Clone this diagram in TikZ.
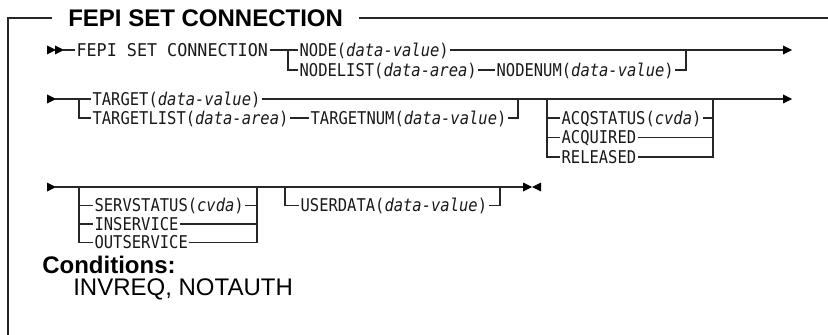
\documentclass[tikz,border=0pt]{standalone}
\usepackage{fontspec}
\usepackage{graphicx}
\setmainfont{Liberation Sans}
\setsansfont{Liberation Sans}
\setmonofont[FakeStretch=0.88]{DejaVu Sans Mono}
\begin{document}
\begin{tikzpicture}[x=0.75pt,y=-0.75pt,
  syn/.style={font=\ttfamily\fontsize{13.2pt}{14pt}\selectfont, anchor=west, inner xsep=1pt, inner ysep=0pt, text height=9.6pt, text depth=0pt, text=black!90},
  hd/.style={font=\sffamily\bfseries\fontsize{18pt}{20pt}\selectfont, anchor=west, inner ysep=0pt, text height=12.9pt, text depth=0pt},
  cnd/.style={font=\sffamily\fontsize{18pt}{20pt}\selectfont, anchor=west, inner sep=0pt, text height=12.9pt, text depth=0pt},
  ln/.style={draw=black!85, line width=0.8pt},
  rtri/.pic={\fill[black] (0,-4.5) -- (9,0) -- (0,4.5) -- cycle;},
  ltri/.pic={\fill[black] (0,-4.5) -- (-9,0) -- (0,4.5) -- cycle;}
]
\useasboundingbox (0,0) rectangle (828,335);
% frame and title
\node[hd, inner xsep=12pt] (title) at (52,18) {FEPI SET CONNECTION};
\coordinate (fbl) at (8,335);
\coordinate (ftl) at (8,18);
\coordinate (ftr) at (828,18);
\draw[ln] (fbl) -- (ftl) -- (title.west);
\draw[ln] (title.east) -- (ftr);

% ---- Row 1
\coordinate (s1) at (63,50);
\pic at (47,50) {rtri};
\pic at (55,50) {rtri};
\node[syn] (fepi) at (75,50) {\scalebox{1.08}[1]{FEPI SET CONNECTION}};
\coordinate (b1) at (288,50);
\node[syn] (node1) at (298,50) {NODE(\textit{data-value})};
\node[syn] (nodelist) at (298,70) {NODELIST(\textit{data-area})};
\node[syn] (nodenum) at (495,70) {NODENUM(\textit{data-value})};
\coordinate (c1) at (686,50);
\coordinate (e1) at (783,50);
\draw[ln] (s1) -- (fepi.west);
\draw[ln] (fepi.east) -- (node1.west);
\draw[ln] (b1) |- (nodelist.west);
\draw[ln] (nodelist.east) -- (nodenum.west);
\draw[ln] (nodenum.east) -| (c1);
\draw[ln] (node1.east) -- (e1);
\pic at (e1) {rtri};

% ---- Row 2
\pic at (47,99) {rtri};
\coordinate (s2) at (55,99);
\coordinate (b2) at (79,99);
\node[syn] (target) at (91,99) {TARGET(\textit{data-value})};
\node[syn] (targetlist) at (91,118) {TARGETLIST(\textit{data-area})};
\node[syn] (targetnum) at (309,118) {TARGETNUM(\textit{data-value})};
\coordinate (c2) at (518,99);
\coordinate (a1) at (547,99);
\coordinate (a2) at (713,99);
\node[syn] (acq) at (560,118) {ACQSTATUS(\textit{cvda})};
\node[syn] (acquired) at (560,137.5) {ACQUIRED};
\node[syn] (released) at (560,157) {RELEASED};
\coordinate (e2) at (783,99);
\draw[ln] (s2) -- (target.west);
\draw[ln] (b2) |- (targetlist.west);
\draw[ln] (targetlist.east) -- (targetnum.west);
\draw[ln] (targetnum.east) -| (c2);
\draw[ln] (target.east) -- (e2);
\draw[ln] (a1) |- (released.west);
\draw[ln] (acq.west -| a1) -- (acq.west);
\draw[ln] (acquired.west -| a1) -- (acquired.west);
\draw[ln] (released.east) -| (a2);
\draw[ln] (acq.east) -- (acq.east -| a2);
\draw[ln] (acquired.east) -- (acquired.east -| a2);
\pic at (e2) {rtri};

% ---- Row 3
\pic at (47,187) {rtri};
\coordinate (s3) at (55,187);
\coordinate (e3) at (523,187);
\coordinate (v1) at (79,187);
\coordinate (v2) at (257,187);
\node[syn] (serv) at (93,205.5) {SERVSTATUS(\textit{cvda})};
\node[syn] (inserv) at (93,224) {INSERVICE};
\node[syn] (outserv) at (93,242.5) {OUTSERVICE};
\coordinate (u1) at (285,187);
\coordinate (u2) at (500,187);
\node[syn] (userdata) at (299,205.5) {USERDATA(\textit{data-value})};
\draw[ln] (s3) -- (e3);
\draw[ln] (v1) |- (outserv.west);
\draw[ln] (serv.west -| v1) -- (serv.west);
\draw[ln] (inserv.west -| v1) -- (inserv.west);
\draw[ln] (outserv.east) -| (v2);
\draw[ln] (serv.east) -- (serv.east -| v2);
\draw[ln] (inserv.east) -- (inserv.east -| v2);
\draw[ln] (u1) |- (userdata.west);
\draw[ln] (userdata.east) -| (u2);
\pic at (e3) {rtri};
\pic at (541,187) {ltri};

% ---- Conditions
\node[hd, inner xsep=0pt] (cond) at (42,265) {Conditions:};
\node[cnd] (codes) at (73,287) {INVREQ, NOTAUTH};
\end{tikzpicture}
\end{document}
